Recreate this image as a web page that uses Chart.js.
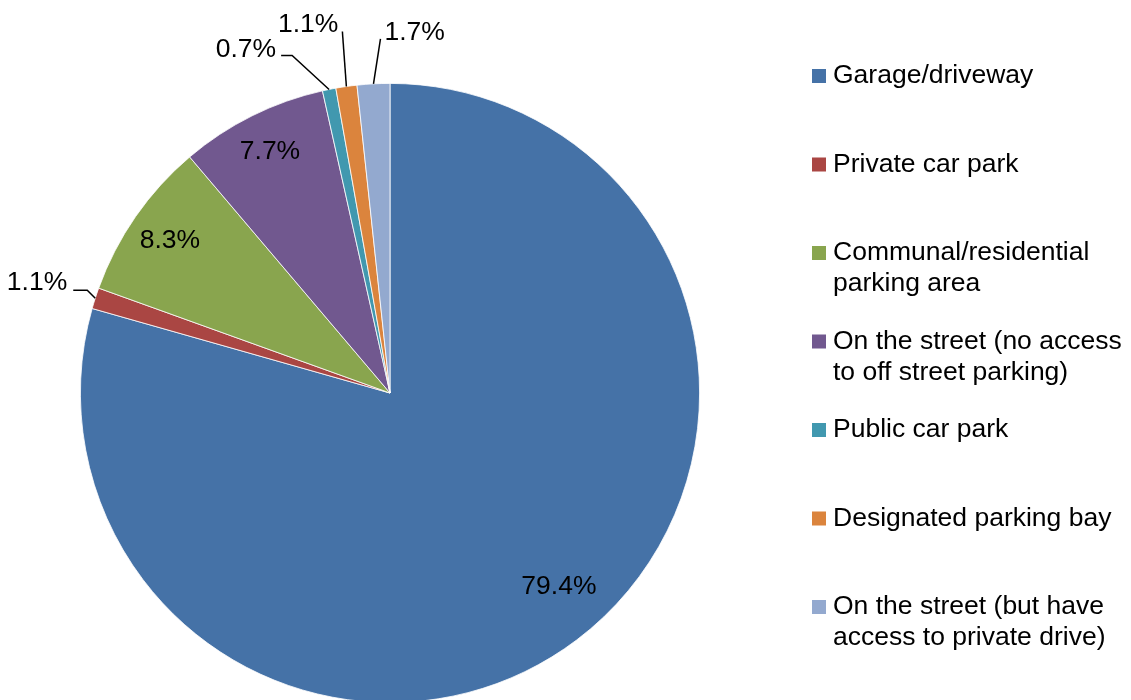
<!DOCTYPE html>
<html>
<head>
<meta charset="utf-8">
<script src="https://cdn.jsdelivr.net/npm/chart.js@4.4.1/dist/chart.umd.min.js"></script>
<style>
html,body{margin:0;padding:0;background:#fff;overflow:hidden;}
canvas{display:block;}
</style>
</head>
<body>
<canvas id="c" width="1131" height="720"></canvas>
<script>
// ---- data ----
const categories = [
  'Garage/driveway',
  'Private car park',
  ['Communal/residential', 'parking area'],
  ['On the street (no access', 'to off street parking)'],
  'Public car park',
  'Designated parking bay',
  ['On the street (but have', 'access to private drive)']
];
const shares = [79.4, 1.1, 8.3, 7.7, 0.7, 1.1, 1.7];
const percentLabels = ['79.4%', '1.1%', '8.3%', '7.7%', '0.7%', '1.1%', '1.7%'];
const colors = ['#4572A7', '#AA4643', '#89A54E', '#71588F', '#4198AF', '#DB843D', '#93A9CF'];

// label placement styles (inside = radius fraction; outside = leader line offsets)
const labelStyle = [
  {inside: 0.83, dAngle: -0.07},
  {elbow: [-8, -8], tail: -14, align: 'right', gap: -6, base: 0},
  {inside: 0.865},
  {inside: 0.87},
  {elbow: [-37, -34], tail: -11, align: 'right', gap: -5, base: 2},
  {elbow: [-4, -55], tail: 0, align: 'right', gap: -4, base: 1},
  {elbow: [7, -45], tail: 0, align: 'left', gap: 4, base: 1}
];

const FONT = '26.5px "Liberation Sans", Arial, sans-serif';

const labelPlugin = {
  id: 'pieLabels',
  afterDatasetsDraw(chart) {
    const ctx = chart.ctx;
    const meta = chart.getDatasetMeta(0);
    ctx.save();
    ctx.font = FONT;
    ctx.fillStyle = '#000';
    ctx.strokeStyle = '#000';
    ctx.lineWidth = 1.5;
    meta.data.forEach((arc, i) => {
      const p = arc.getProps(['x', 'y', 'startAngle', 'endAngle', 'outerRadius'], true);
      const st = labelStyle[i];
      const mid = (p.startAngle + p.endAngle) / 2 + (st.dAngle || 0);
      if (st.inside) {
        const r = p.outerRadius * st.inside;
        ctx.textAlign = 'center';
        ctx.textBaseline = 'middle';
        ctx.fillText(percentLabels[i], p.x + Math.cos(mid) * r, p.y + Math.sin(mid) * r);
      } else {
        const ex = p.x + Math.cos(mid) * p.outerRadius;
        const ey = p.y + Math.sin(mid) * p.outerRadius;
        const bx = ex + st.elbow[0], by = ey + st.elbow[1];
        const tx = bx + st.tail;
        ctx.beginPath();
        ctx.moveTo(ex, ey);
        ctx.lineTo(bx, by);
        if (st.tail) ctx.lineTo(tx, by);
        ctx.stroke();
        ctx.textAlign = st.align;
        ctx.textBaseline = 'alphabetic';
        ctx.fillText(percentLabels[i], tx + st.gap, by + st.base);
      }
    });
    ctx.restore();
  }
};

const legendPlugin = {
  id: 'sideLegend',
  afterDraw(chart) {
    const ctx = chart.ctx;
    const labels = chart.data.labels;
    const bg = chart.data.datasets[0].backgroundColor;
    ctx.save();
    ctx.font = FONT;
    ctx.textAlign = 'left';
    ctx.textBaseline = 'middle';
    const x0 = 812, y0 = 76, step = 88.5, lh = 31, box = 14;
    labels.forEach((lab, i) => {
      const y = y0 + i * step;
      ctx.fillStyle = bg[i];
      ctx.fillRect(x0, y - box / 2, box, box);
      ctx.fillStyle = '#000';
      const lines = Array.isArray(lab) ? lab : [lab];
      lines.forEach((ln, k) => ctx.fillText(ln, x0 + 21, y + k * lh));
    });
    ctx.restore();
  }
};

new Chart(document.getElementById('c'), {
  type: 'pie',
  data: {
    labels: categories,
    datasets: [{
      data: shares,
      backgroundColor: colors,
      borderColor: '#ffffff',
      borderWidth: 0.8
    }]
  },
  options: {
    responsive: false,
    animation: false,
    devicePixelRatio: 1,
    layout: {padding: {left: 80, right: 431, top: 83, bottom: 17}},
    plugins: {legend: {display: false}, tooltip: {enabled: false}}
  },
  plugins: [labelPlugin, legendPlugin]
});
</script>
</body>
</html>
